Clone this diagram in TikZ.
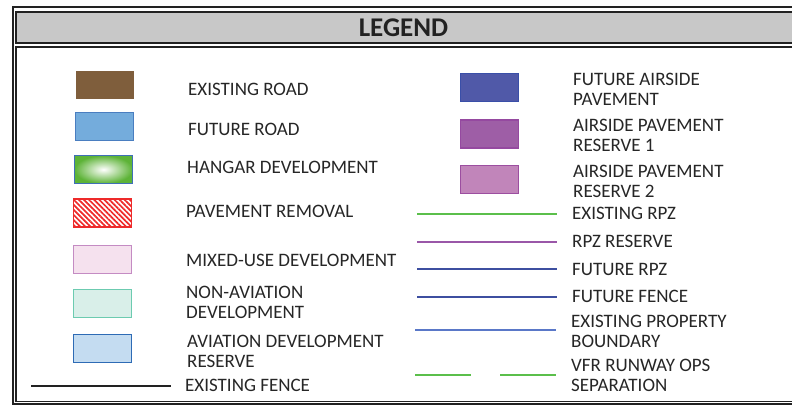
\documentclass[tikz,border=0pt]{standalone}
\usepackage{fontspec}
\setmainfont{Carlito}
\usetikzlibrary{patterns.meta}
\definecolor{txtcol}{HTML}{262626}
\definecolor{framecol}{HTML}{222222}
\definecolor{barcol}{HTML}{C8C8C8}
\definecolor{roadbrown}{HTML}{7F5E3C}
\definecolor{roadblue}{HTML}{74ACDC}
\definecolor{roadedge}{HTML}{4A7EC0}
\definecolor{hangargreen}{HTML}{5DB337}
\definecolor{hangaredge}{HTML}{3F6FB6}
\definecolor{removered}{HTML}{EE2A2A}
\definecolor{mixedfill}{HTML}{F5E1EE}
\definecolor{mixededge}{HTML}{C48BC3}
\definecolor{nonavfill}{HTML}{D9EFE9}
\definecolor{nonavedge}{HTML}{6CCBB0}
\definecolor{avfill}{HTML}{C4DCF1}
\definecolor{avedge}{HTML}{2E6BB5}
\definecolor{airfill}{HTML}{5059A8}
\definecolor{airedge}{HTML}{3A4FA8}
\definecolor{resAfill}{HTML}{9E5EA6}
\definecolor{resAedge}{HTML}{9549A0}
\definecolor{resBfill}{HTML}{C185BA}
\definecolor{resBedge}{HTML}{9C4EA0}
\definecolor{rpzgreen}{HTML}{5BBF4B}
\definecolor{rpzpurple}{HTML}{9A57A8}
\definecolor{rpzblue}{HTML}{3D4FA0}
\definecolor{propblue}{HTML}{5A78C8}

\begin{document}
\begin{tikzpicture}[x=1pt, y=-1pt,
    swatch/.style = {shape=rectangle, line width=1.5pt,
      minimum width=58pt, minimum height=28pt, inner sep=0pt},
    lbl/.style = {anchor=base west, inner sep=0pt, text=txtcol,
      align=left, font=\fontsize{19}{20}\selectfont},
    sample/.style = {line width=1.5pt}]
  \useasboundingbox (0,0) rectangle (792,406);
  \clip (0,0) rectangle (792,406);
  \draw[line width=2pt, framecol] (12.5,7) rectangle (810,404);
  \draw[line width=1.5pt, framecol, fill=barcol] (16,12) rectangle (810,43);
  \draw[line width=1.5pt, framecol] (16,47) rectangle (810,401.5);
  \node[anchor=base, inner sep=0pt, text=framecol,
    font=\bfseries\fontsize{27}{30}\selectfont] (title) at (403.5,36.3) {LEGEND};

  \node[swatch, fill=roadbrown] (exroad) at (104.5,85) {};
  \node[swatch, fill=roadblue, draw=roadedge] (futroad) at (104.5,126.5) {};
  \node[swatch, draw=hangaredge, inner color=white,
    outer color=hangargreen] (hangar) at (103.5,169.5) {};
  \node[swatch, draw=removered, pattern={Lines[angle=-45, distance=3.6pt,
    line width=1.7pt]}, pattern color=removered] (pavrem) at (102.5,213) {};
  \node[swatch, fill=mixedfill, draw=mixededge] (mixed) at (102.5,259.5) {};
  \node[swatch, fill=nonavfill, draw=nonavedge] (nonav) at (102.5,303.5) {};
  \node[swatch, fill=avfill, draw=avedge] (avdev) at (102.5,348.5) {};
  \coordinate (exfence-a) at (31,386);
  \coordinate (exfence-b) at (171,386);
  \draw[sample, framecol] (exfence-a) -- (exfence-b);

  \node[lbl] (exroad-lbl) at (188,96) {EXISTING ROAD};
  \node[lbl] (futroad-lbl) at (188,136) {FUTURE ROAD};
  \node[lbl] (hangar-lbl) at (187,174) {HANGAR DEVELOPMENT};
  \node[lbl] (pavrem-lbl) at (186,218) {PAVEMENT REMOVAL};
  \node[lbl] (mixed-lbl) at (186,266) {MIXED-USE DEVELOPMENT};
  \node[lbl] (nonav-lbl) at (186,318) {NON-AVIATION\\DEVELOPMENT};
  \node[lbl] (avdev-lbl) at (187,367) {AVIATION DEVELOPMENT\\RESERVE};
  \node[lbl] (exfence-lbl) at (185,391) {EXISTING FENCE};

  \node[swatch, fill=airfill, draw=airedge] (futair) at (489.5,87.5) {};
  \node[swatch, fill=resAfill, draw=resAedge] (resA) at (489.5,134) {};
  \node[swatch, fill=resBfill, draw=resBedge] (resB) at (489.5,179.5) {};
  \coordinate (exrpz-a) at (417,214);
  \coordinate (exrpz-b) at (557,214);
  \coordinate (rpzres-a) at (417,242);
  \coordinate (rpzres-b) at (557,242);
  \coordinate (futrpz-a) at (417,269);
  \coordinate (futrpz-b) at (557,269);
  \coordinate (futfence-a) at (417,297);
  \coordinate (futfence-b) at (557,297);
  \coordinate (prop-a) at (415,330);
  \coordinate (prop-b) at (556,330);
  \coordinate (vfr-a) at (415,375);
  \coordinate (vfr-b) at (556,375);
  \draw[sample, rpzgreen] (exrpz-a) -- (exrpz-b);
  \draw[sample, rpzpurple] (rpzres-a) -- (rpzres-b);
  \draw[sample, rpzblue] (futrpz-a) -- (futrpz-b);
  \draw[sample, rpzblue] (futfence-a) -- (futfence-b);
  \draw[sample, propblue] (prop-a) -- (prop-b);
  \draw[sample, rpzgreen, dash pattern=on 56pt off 29pt] (vfr-a) -- (vfr-b);

  \node[lbl] (futair-lbl) at (573,106) {FUTURE AIRSIDE\\PAVEMENT};
  \node[lbl] (resA-lbl) at (573,152) {AIRSIDE PAVEMENT\\RESERVE 1};
  \node[lbl] (resB-lbl) at (573,197) {AIRSIDE PAVEMENT\\RESERVE 2};
  \node[lbl] (exrpz-lbl) at (572,219) {EXISTING RPZ};
  \node[lbl] (rpzres-lbl) at (572,247) {RPZ RESERVE};
  \node[lbl] (futrpz-lbl) at (572,275) {FUTURE RPZ};
  \node[lbl] (futfence-lbl) at (572,302) {FUTURE FENCE};
  \node[lbl] (prop-lbl) at (571,347) {EXISTING PROPERTY\\BOUNDARY};
  \node[lbl] (vfr-lbl) at (571,391) {VFR RUNWAY OPS\\SEPARATION};
\end{tikzpicture}
\end{document}
